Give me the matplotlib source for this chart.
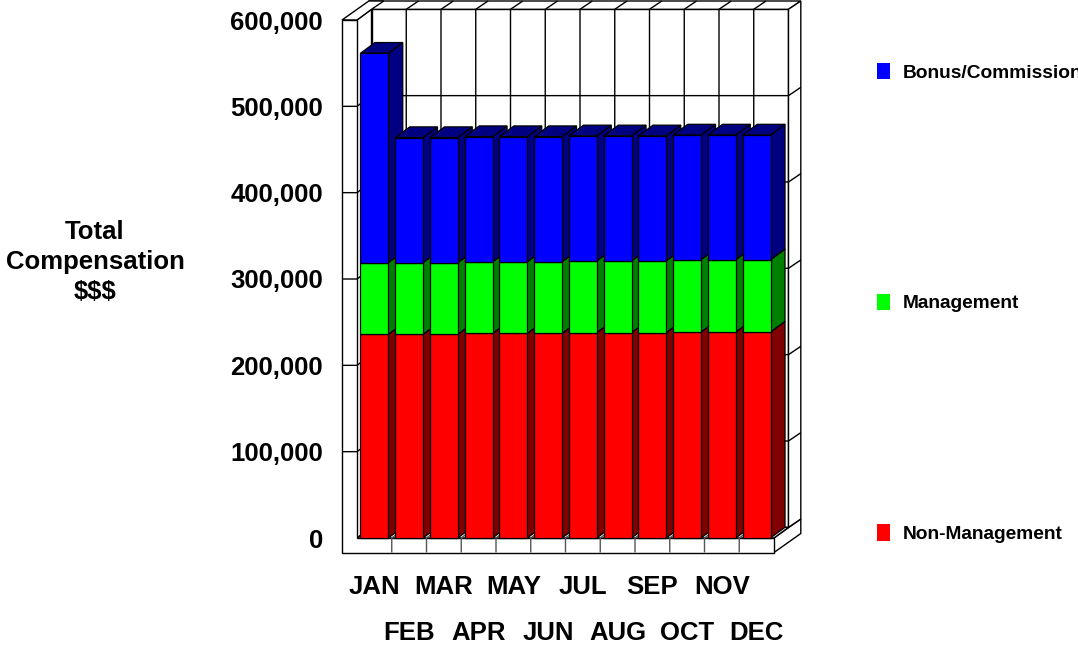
import matplotlib
matplotlib.use("Agg")
import matplotlib.pyplot as plt
from matplotlib.patches import Polygon, Patch
import numpy as np

# ---------------- data ----------------
months = ["JAN", "FEB", "MAR", "APR", "MAY", "JUN",
          "JUL", "AUG", "SEP", "OCT", "NOV", "DEC"]
non_management = [236000, 236000, 236000, 237000, 237000, 237000,
                  238000, 238000, 238000, 238600, 238600, 238600]
management = [83000, 83000, 83000, 83000, 83000, 83000,
              83000, 83000, 83000, 83800, 83800, 83800]
bonus = [242500, 144800, 144800, 144900, 144900, 144900,
         144800, 144800, 144800, 144400, 144400, 144400]
y_ticks = [0, 100000, 200000, 300000, 400000, 500000, 600000]
series_names = ["Non-Management", "Management", "Bonus/Commission"]
front_colors = ["#FF0000", "#00FF00", "#0000FF"]
side_colors = ["#800000", "#008000", "#000080"]

plt.rcParams['font.family'] = ['Liberation Sans', 'DejaVu Sans']
plt.rcParams['font.weight'] = 'bold'

W, H = 1078, 645
fig = plt.figure(figsize=(W / 100, H / 100), dpi=100)

# ---------------- layout (pixel mapping of the front plane) ----------------
px_cat = 34.75            # pixels per category
x_edge_px = 357.0         # pixel of x = -0.5
px_val = 518.0 / 600000   # pixels per value unit
y_zero_px = 538.0         # pixel row of value 0

xlim = (-1.1, 12.5)
ylim = (-24000, 623000)
left_px = x_edge_px + (xlim[0] + 0.5) * px_cat
right_px = x_edge_px + (xlim[1] + 0.5) * px_cat
bottom_px = y_zero_px - ylim[0] * px_val
top_px = y_zero_px - ylim[1] * px_val
ax = fig.add_axes([left_px / W, 1 - bottom_px / H,
                   (right_px - left_px) / W, (bottom_px - top_px) / H])
ax.set_xlim(xlim)
ax.set_ylim(ylim)
for s in ax.spines.values():
    s.set_visible(False)

# depth / thickness in data units
dx, dy = 14.5 / px_cat, 10.7 / px_val          # bar & inner depth
bx, by = 12.3 / px_cat, 8.3 / px_val           # back wall thickness
tw = 15.0 / px_cat                             # left wall thickness
ft = 14.5 / px_val                             # floor thickness
n = len(months)
xl, xr = -0.5, n - 0.5
ymax = y_ticks[-1]

def poly(pts, fc="white", ec="black", lw=1.0, z=1):
    ax.add_patch(Polygon(pts, closed=True, facecolor=fc, edgecolor=ec,
                         linewidth=lw, zorder=z, clip_on=False,
                         joinstyle="miter"))

def line(xs, ys, color="black", lw=1.0, z=1.5):
    ax.plot(xs, ys, color=color, lw=lw, zorder=z, clip_on=False,
            solid_capstyle="butt")

# walls
poly([(xl + dx, dy), (xr + dx, dy), (xr + dx, ymax + dy), (xl + dx, ymax + dy)])
poly([(xl + dx, ymax + dy), (xr + dx, ymax + dy), (xr + dx + bx, ymax + dy + by),
      (xl - tw + dx + bx, ymax + dy + by)])
poly([(xr, -ft), (xr, 0), (xr + dx + bx, dy + by), (xr + dx + bx, -ft + dy + by)])
poly([(xr + dx, dy), (xr + dx, ymax + dy), (xr + dx + bx, ymax + dy + by),
      (xr + dx + bx, dy + by)])
poly([(xl, 0), (xl, ymax), (xl + dx, ymax + dy), (xl + dx, dy)])
poly([(xl - tw, ymax), (xl, ymax), (xl + dx, ymax + dy),
      (xl + dx + bx, ymax + dy + by), (xl - tw + dx + bx, ymax + dy + by)])
poly([(xl, 0), (xr, 0), (xr + dx, dy), (xl + dx, dy)])
poly([(xl - tw, -ft), (xr, -ft), (xr, 0), (xl, 0), (xl, ymax), (xl - tw, ymax)])

# gridlines
for v in y_ticks[1:-1]:
    line([xl + dx, xr + dx, xr + dx + bx], [v + dy, v + dy, v + dy + by])
    line([xl - tw, xl, xl + dx], [v, v, v + dy])
for k in range(1, n):
    xb = k - 0.5
    line([xb + dx, xb + dx, xb + dx + bx], [dy, ymax + dy, ymax + dy + by])
    line([xb, xb, xb + dx], [-ft, 0, dy], color="#555555")

# bars (pseudo-3D)
x = np.arange(n)
bw = 0.8
bottoms = np.zeros(n)
for vals, fc, sc in zip([non_management, management, bonus], front_colors, side_colors):
    vals = np.asarray(vals, dtype=float)
    tops = bottoms + vals
    for xi, b, t in zip(x, bottoms, tops):
        r = xi + bw / 2
        poly([(r, b), (r + dx, b + dy), (r + dx, t + dy), (r, t)], fc=sc, lw=0.9, z=3)
        poly([(xi - bw / 2, t), (r, t), (r + dx, t + dy), (xi - bw / 2 + dx, t + dy)],
             fc=sc, lw=0.9, z=3)
    ax.bar(x, vals, bw, bottom=bottoms, color=fc, edgecolor="black",
           linewidth=0.9, zorder=4)
    bottoms = tops

# ticks
fs = 18.5
ax.set_yticks(y_ticks, labels=[f"{v:,}" for v in y_ticks])
ax.tick_params(axis="y", length=0, pad=(left_px - 323) / 1.389, labelsize=fs)
ax.set_xticks(x[::2], labels=months[::2])
ax.set_xticks(x[1::2], labels=months[1::2], minor=True)
ax.tick_params(axis="x", which="both", length=0, labelsize=fs)
ax.tick_params(axis="x", which="major", pad=(575 - bottom_px) / 1.389)
ax.tick_params(axis="x", which="minor", pad=(621.5 - bottom_px) / 1.389)
for lab in ax.get_xticklabels() + ax.get_xticklabels(minor=True) + ax.get_yticklabels():
    lab.set_fontweight("bold")

# y title
fig.text(95 / W, 1 - 262 / H, "Total\nCompensation\n$$$", ha="center", va="center",
         fontsize=fs, fontweight="bold", linespacing=1.3, multialignment="center")

# legend
handles = [Patch(facecolor=c, edgecolor="none") for c in front_colors[::-1]]
fsl = 13.8
fpx = fsl * 100 / 72
leg = fig.legend(handles, series_names[::-1], loc="upper left",
                 bbox_to_anchor=(876.7 / W, 1 - 63 / H), frameon=False,
                 fontsize=fsl, handlelength=13 / fpx, handleheight=18 / fpx,
                 handletextpad=13.4 / fpx, labelspacing=11.05, borderpad=0,
                 borderaxespad=0)
for t in leg.get_texts():
    t.set_fontweight("bold")

fig.savefig("out.png", dpi=100)
